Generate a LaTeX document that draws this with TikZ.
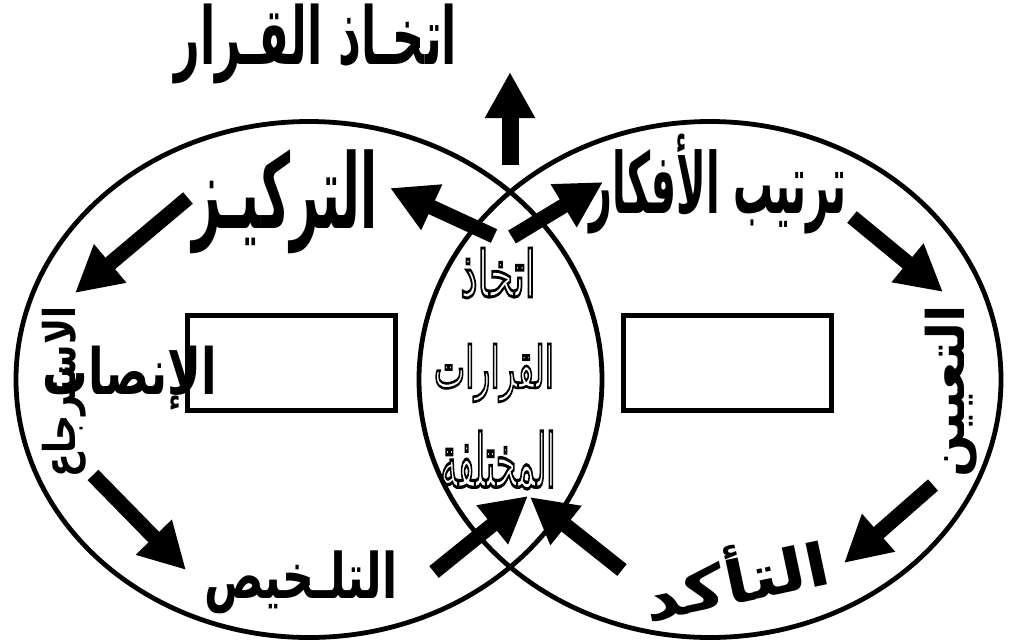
\documentclass[tikz,border=0pt]{standalone}
\usepackage{graphicx}
\usepackage{fontspec}
\usetikzlibrary{arrows.meta}
\TeXXeTstate=1
\newfontfamily\arabicfont[Script=Arabic]{DejaVu Sans}
\newcommand\AR[1]{{\arabicfont\beginR #1\endR}}
\newcommand\ARB[1]{{\arabicfont\bfseries\beginR #1\endR}}
\newcommand\outlinetext[1]{\special{pdf:literal direct 1 Tr 0.45 w}#1\special{pdf:literal direct 0 Tr}}
\tikzset{
  ring/.style={line width=4.8pt},
  box/.style={draw, line width=4.5pt},
  blockarrow/.style={line width=15pt, -{Triangle[length=46pt,width=47pt]}},
  lbl/.style={inner sep=0pt, text=black}
}
\begin{document}
\begin{tikzpicture}[x=1pt,y=-1pt]
\useasboundingbox (0,0) rectangle (1015,641);
% circles
\draw[ring] (309,379.5) ellipse [x radius=293, y radius=258];
\draw[ring] (710,379.5) ellipse [x radius=291, y radius=258];
% boxes
\draw[box] (187.5,315.5) rectangle (395.5,410.5);
\draw[box] (623.5,315.5) rectangle (831.5,410.5);
% labels
\node[lbl] (decision) at (316,44) {\resizebox*{282pt}{80pt}{\ARB{اتخـاذ القـرار}}};
\node[lbl] (focus) at (285,202) {\resizebox*{185pt}{104pt}{\ARB{التركيـز}}};
\node[lbl] (order) at (718,184) {\resizebox*{257pt}{100pt}{\ARB{ترتيب الأفكار}}};
\node[lbl, rotate=90] (recall) at (64,392) {\resizebox*{170pt}{44pt}{\ARB{الاسترجاع}}};
\node[lbl] (listen) at (130,378) {\resizebox*{174pt}{64pt}{\ARB{الإنصات}}};
\node[lbl, rotate=90] (assign) at (951,391) {\resizebox*{172pt}{52pt}{\ARB{التعيين}}};
\node[lbl] (summary) at (301,582) {\resizebox*{193pt}{63pt}{\ARB{التلـخيص}}};
\node[lbl, rotate=12] (verify) at (735,575) {\resizebox*{188pt}{60pt}{\ARB{التأكد}}};
\node[lbl] (l1) at (498,273) {\resizebox*{75pt}{50pt}{\outlinetext{\AR{اتخاذ}}}};
\node[lbl] (l2) at (494,373) {\resizebox*{120pt}{58pt}{\outlinetext{\AR{القرارات}}}};
\node[lbl] (l3) at (498,460) {\resizebox*{115pt}{58pt}{\outlinetext{\AR{المختلفة}}}};
% arrow ends
\coordinate (a1s) at (510,165); \coordinate (a1e) at (510,72);
\coordinate (a2s) at (494,236); \coordinate (a2e) at (390,188);
\coordinate (a3s) at (512,237); \coordinate (a3e) at (603,182);
\coordinate (a4s) at (188,198); \coordinate (a4e) at (75,293);
\coordinate (a5s) at (852,217); \coordinate (a5e) at (943,292);
\coordinate (a6s) at (93,475);  \coordinate (a6e) at (186,570);
\coordinate (a7s) at (933,485); \coordinate (a7e) at (844,563);
\coordinate (a8s) at (434,572); \coordinate (a8e) at (528,496);
\coordinate (a9s) at (622,570); \coordinate (a9e) at (530,497);
\draw[blockarrow, line width=17pt] (a1s) -- (a1e);
\draw[blockarrow] (a2s) -- (a2e);
\draw[blockarrow] (a3s) -- (a3e);
\draw[blockarrow] (a4s) -- (a4e);
\draw[blockarrow] (a5s) -- (a5e);
\draw[blockarrow] (a6s) -- (a6e);
\draw[blockarrow] (a7s) -- (a7e);
\draw[blockarrow] (a8s) -- (a8e);
\draw[blockarrow] (a9s) -- (a9e);
\end{tikzpicture}
\end{document}
